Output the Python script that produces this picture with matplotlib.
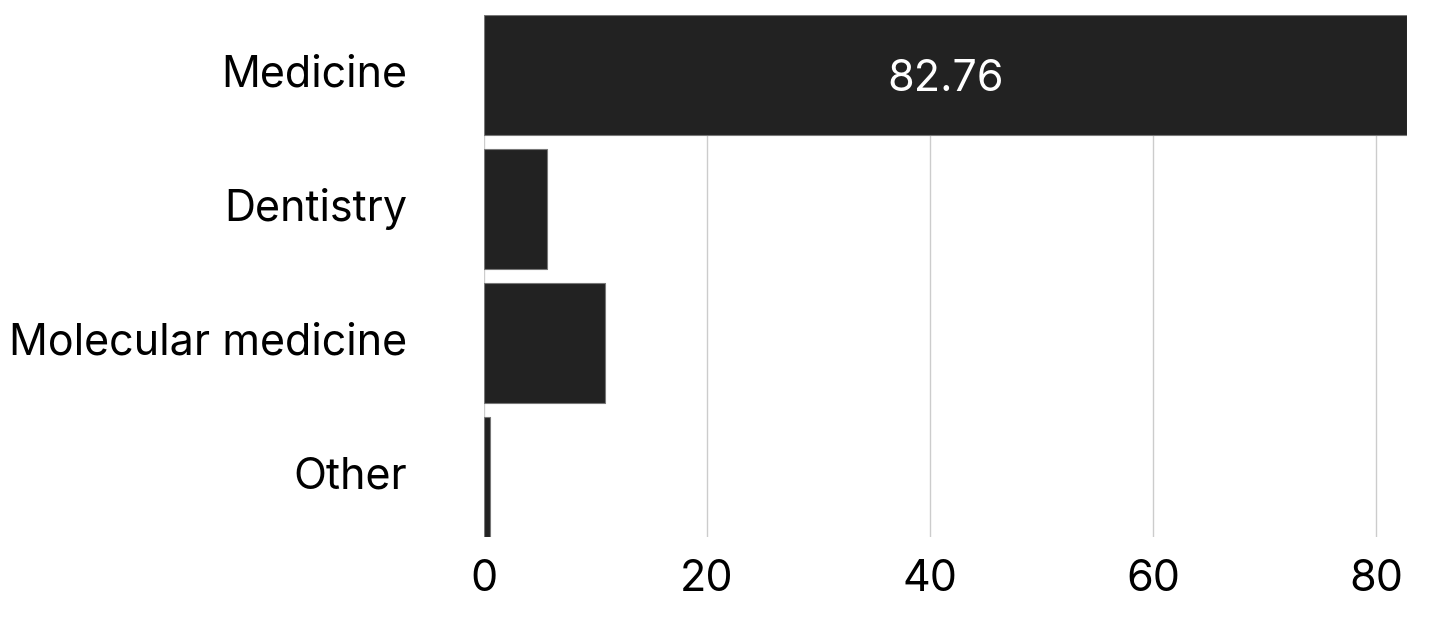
import matplotlib.pyplot as plt

categories = ['Medicine', 'Dentistry', 'Molecular medicine', 'Other']
values = [82.76, 5.68, 10.85, 0.52]
x_ticks = [0, 20, 40, 60, 80]

plt.rcParams['font.family'] = ['Inter', 'DejaVu Sans']
plt.rcParams['font.size'] = 31

fig = plt.figure(figsize=(14.31, 6.17), dpi=100)
ax = fig.add_axes([484 / 1431, 1 - 537 / 617, (1407 - 484) / 1431, (537 - 15) / 617])

pos = list(range(len(categories)))
bars = ax.barh(pos, values, height=0.9, color='#222222', edgecolor='#777777',
               linewidth=0.8, zorder=2)

# only the big bar gets its value printed inside
ax.text(values[0] / 2, pos[0], f'{values[0]:.2f}', color='white',
        ha='center', va='center_baseline', zorder=3)

ax.set_yticks(pos)
ax.set_yticklabels(categories, va='center')
ax.set_xticks(x_ticks)
ax.set_ylim(len(categories) - 1 + 0.45, -0.45)
ax.set_xlim(0, values[0])

ax.grid(axis='x', color='#cccccc', linewidth=1, zorder=0)
ax.set_axisbelow(True)
for s in ax.spines.values():
    s.set_visible(False)
ax.tick_params(axis='y', length=0, pad=55)
ax.tick_params(axis='x', length=0, pad=16)

plt.savefig('out.png', dpi=100)
plt.close()
